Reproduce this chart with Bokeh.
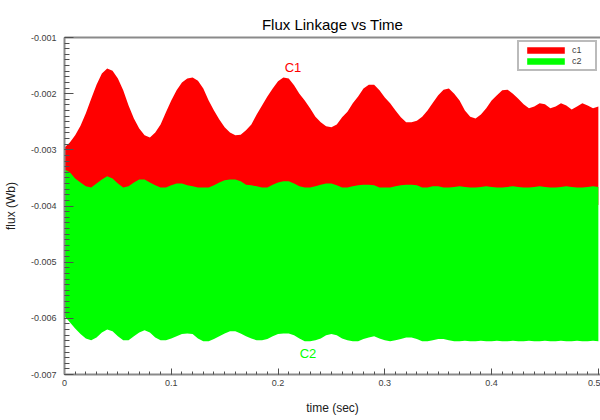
from bokeh.plotting import figure
from bokeh.models import (ColumnDataSource, Range1d, LinearAxis, FixedTicker,
                          Legend, LegendItem)
from bokeh.core.properties import value
from bokeh.embed import file_html
from bokeh.resources import INLINE

# ---- data (Wb), sampled every 5 ms over 0 .. 0.5 s ----
time_s = [round(i * 0.005, 3) for i in range(101)]

# c1: upper extent of the fast oscillation
c1_max = [
    -0.00296, -0.00287, -0.00274, -0.00257, -0.00235, -0.00209, -0.00184, -0.00164, -0.00155, -0.00159,
    -0.00173, -0.00194, -0.00221, -0.00244, -0.00262, -0.00274, -0.00278, -0.00269, -0.00255, -0.00233,
    -0.00212, -0.00194, -0.00180, -0.00173, -0.00171, -0.00177, -0.00191, -0.00212, -0.00230, -0.00246,
    -0.00260, -0.00269, -0.00274, -0.00273, -0.00265, -0.00255, -0.00237, -0.00221, -0.00205, -0.00191,
    -0.00178, -0.00171, -0.00173, -0.00185, -0.00200, -0.00212, -0.00226, -0.00241, -0.00251, -0.00258,
    -0.00260, -0.00255, -0.00242, -0.00232, -0.00217, -0.00205, -0.00191, -0.00184, -0.00184, -0.00194,
    -0.00207, -0.00217, -0.00230, -0.00242, -0.00251, -0.00251, -0.00248, -0.00241, -0.00230, -0.00216,
    -0.00203, -0.00193, -0.00191, -0.00200, -0.00212, -0.00230, -0.00241, -0.00244, -0.00237, -0.00226,
    -0.00212, -0.00203, -0.00194, -0.00193, -0.00200, -0.00209, -0.00219, -0.00226, -0.00223, -0.00217,
    -0.00219, -0.00226, -0.00223, -0.00217, -0.00221, -0.00228, -0.00223, -0.00217, -0.00221, -0.00226,
    -0.00223,
]

# c1: lower extent of the fast oscillation
c1_min = [
    -0.00390, -0.00395, -0.00398, -0.00400, -0.00400, -0.00398, -0.00395, -0.00392, -0.00395, -0.00398,
    -0.00400, -0.00400, -0.00398, -0.00395, -0.00392, -0.00395, -0.00398, -0.00400, -0.00400, -0.00398,
    -0.00395, -0.00392, -0.00395, -0.00398, -0.00400, -0.00400, -0.00398, -0.00395, -0.00392, -0.00395,
    -0.00398, -0.00400, -0.00400, -0.00398, -0.00395, -0.00392, -0.00395, -0.00398, -0.00400, -0.00400,
    -0.00398, -0.00395, -0.00392, -0.00395, -0.00398, -0.00400, -0.00400, -0.00398, -0.00395, -0.00392,
    -0.00395, -0.00398, -0.00400, -0.00400, -0.00398, -0.00395, -0.00392, -0.00395, -0.00398, -0.00400,
    -0.00400, -0.00398, -0.00395, -0.00392, -0.00395, -0.00398, -0.00400, -0.00400, -0.00398, -0.00395,
    -0.00392, -0.00395, -0.00398, -0.00400, -0.00400, -0.00398, -0.00395, -0.00392, -0.00395, -0.00398,
    -0.00400, -0.00400, -0.00398, -0.00395, -0.00392, -0.00395, -0.00398, -0.00400, -0.00400, -0.00398,
    -0.00395, -0.00392, -0.00395, -0.00398, -0.00400, -0.00400, -0.00398, -0.00395, -0.00392, -0.00395,
    -0.00398,
]

# c2: upper extent of the fast oscillation
c2_max = [
    -0.00335, -0.00340, -0.00351, -0.00358, -0.00365, -0.00367, -0.00360, -0.00353, -0.00347, -0.00351,
    -0.00360, -0.00367, -0.00365, -0.00358, -0.00353, -0.00353, -0.00358, -0.00363, -0.00367, -0.00367,
    -0.00363, -0.00360, -0.00360, -0.00363, -0.00365, -0.00367, -0.00367, -0.00367, -0.00363, -0.00358,
    -0.00354, -0.00353, -0.00353, -0.00356, -0.00362, -0.00363, -0.00365, -0.00367, -0.00367, -0.00362,
    -0.00358, -0.00356, -0.00356, -0.00360, -0.00365, -0.00367, -0.00367, -0.00365, -0.00362, -0.00360,
    -0.00360, -0.00363, -0.00367, -0.00367, -0.00365, -0.00363, -0.00362, -0.00362, -0.00363, -0.00367,
    -0.00367, -0.00367, -0.00365, -0.00363, -0.00362, -0.00362, -0.00363, -0.00367, -0.00367, -0.00365,
    -0.00365, -0.00367, -0.00367, -0.00366, -0.00365, -0.00366, -0.00367, -0.00367, -0.00366, -0.00365,
    -0.00366, -0.00367, -0.00367, -0.00366, -0.00365, -0.00366, -0.00367, -0.00367, -0.00366, -0.00365,
    -0.00366, -0.00367, -0.00367, -0.00366, -0.00365, -0.00366, -0.00367, -0.00367, -0.00366, -0.00365,
    -0.00366,
]

# c2: lower extent of the fast oscillation
c2_min = [
    -0.00596, -0.00607, -0.00618, -0.00628, -0.00636, -0.00639, -0.00634, -0.00625, -0.00620, -0.00623,
    -0.00632, -0.00639, -0.00639, -0.00632, -0.00625, -0.00621, -0.00625, -0.00634, -0.00639, -0.00639,
    -0.00636, -0.00632, -0.00628, -0.00627, -0.00628, -0.00636, -0.00641, -0.00641, -0.00637, -0.00632,
    -0.00627, -0.00623, -0.00623, -0.00627, -0.00632, -0.00636, -0.00639, -0.00639, -0.00637, -0.00632,
    -0.00628, -0.00627, -0.00627, -0.00630, -0.00636, -0.00641, -0.00641, -0.00639, -0.00636, -0.00630,
    -0.00628, -0.00630, -0.00636, -0.00639, -0.00641, -0.00641, -0.00637, -0.00634, -0.00632, -0.00636,
    -0.00639, -0.00641, -0.00639, -0.00637, -0.00634, -0.00634, -0.00637, -0.00641, -0.00641, -0.00639,
    -0.00637, -0.00637, -0.00639, -0.00641, -0.00641, -0.00640, -0.00641, -0.00641, -0.00640, -0.00641,
    -0.00641, -0.00640, -0.00641, -0.00641, -0.00640, -0.00641, -0.00641, -0.00640, -0.00641, -0.00641,
    -0.00640, -0.00641, -0.00641, -0.00640, -0.00641, -0.00641, -0.00640, -0.00641, -0.00641, -0.00640,
    -0.00641,
]

x_ticks = [0.0, 0.1, 0.2, 0.3, 0.4, 0.5]
x_tick_labels = ["0", "0.1", "0.2", "0.3", "0.4", "0.5"]
y_ticks = [-0.007, -0.006, -0.005, -0.004, -0.003, -0.002, -0.001]
y_tick_labels = ["-0.007", "-0.006", "-0.005", "-0.004", "-0.003", "-0.002", "-0.001"]

series_names = ["c1", "c2"]
series_colors = ["#ff0000", "#00ff00"]
curve_tags = ["C1", "C2"]
tag_x = [0.214, 0.228]
tag_y = [-0.00153, -0.00662]

FONT = "Liberation Sans"
AXIS_GRAY = "#8a8a8a"
TEXT_GRAY = "#404040"

src = ColumnDataSource(dict(t=time_s, c1_max=c1_max, c1_min=c1_min,
                            c2_max=c2_max, c2_min=c2_min))

p = figure(width=600, height=420, output_backend="svg", toolbar_location=None,
           x_range=Range1d(0, 0.502), y_range=Range1d(-0.007, -0.001),
           min_border_left=63, min_border_right=0, min_border_top=37,
           min_border_bottom=46, outline_line_color=None,
           title="Flux Linkage vs Time")

p.title.align = "center"
p.title.text_font = FONT
p.title.text_font_size = "15px"
p.title.text_font_style = "normal"
p.title.text_color = "#000000"

p.grid.visible = False
p.background_fill_color = "white"
p.border_fill_color = "white"

# the two flux bands
r1 = p.varea(x="t", y1="c1_min", y2="c1_max", source=src, fill_color=series_colors[0])
r2 = p.varea(x="t", y1="c2_min", y2="c2_max", source=src, fill_color=series_colors[1])

# curve tags
tag_src = ColumnDataSource(dict(x=tag_x, y=tag_y, text=curve_tags, color=series_colors))
p.text(x="x", y="y", text="text", text_color="color", source=tag_src,
       text_align="center", text_baseline="middle",
       text_font=value(FONT), text_font_size="13px")

# axes
xa = p.xaxis[0]
xa.ticker = FixedTicker(ticks=x_ticks,
                        minor_ticks=[round(i * 0.01, 3) for i in range(51)])
xa.major_label_overrides = dict(zip(x_ticks, x_tick_labels))
xa.axis_label = "time (sec)"

ya = p.yaxis[0]
ya.ticker = FixedTicker(ticks=y_ticks,
                        minor_ticks=[round(-0.007 + i * 0.0001, 5) for i in range(61)])
ya.major_label_overrides = dict(zip(y_ticks, y_tick_labels))
ya.axis_label = "flux (Wb)"

for ax in (xa, ya):
    ax.axis_line_color = AXIS_GRAY
    ax.axis_line_width = 2
    ax.major_tick_line_color = "#505050"
    ax.minor_tick_line_color = "#505050"
    ax.major_tick_out = 0
    ax.minor_tick_out = 0
    ax.major_label_text_font = FONT
    ax.major_label_text_font_size = "9px"
    ax.major_label_text_color = TEXT_GRAY
    ax.axis_label_text_font = FONT
    ax.axis_label_text_font_size = "12px"
    ax.axis_label_text_font_style = "normal"
    ax.axis_label_text_color = "#202020"

xa.major_tick_in = 6
xa.minor_tick_in = 3
xa.major_label_standoff = 5
xa.axis_label_standoff = 12
ya.major_tick_in = 9
ya.minor_tick_in = 5
ya.major_label_standoff = 8
ya.axis_label_standoff = 10

# plain frame line along the top (no ticks, no labels)
top = LinearAxis(ticker=FixedTicker(ticks=[], minor_ticks=[]),
                 axis_line_color=AXIS_GRAY, axis_line_width=2,
                 major_tick_line_color=None, minor_tick_line_color=None,
                 major_label_text_font_size="9px")
p.add_layout(top, "above")

legend = Legend(items=[LegendItem(label=series_names[0], renderers=[r1]),
                       LegendItem(label=series_names[1], renderers=[r2])],
                location="top_right", margin=3, padding=3, spacing=1,
                glyph_width=47, glyph_height=8, label_height=10,
                label_standoff=3, label_text_font=FONT,
                label_text_font_size="9px", label_text_color=TEXT_GRAY,
                border_line_color="#777777", border_line_width=2,
                background_fill_color="white", background_fill_alpha=1)
p.add_layout(legend)

open("out.html", "w").write(file_html(p, INLINE))
